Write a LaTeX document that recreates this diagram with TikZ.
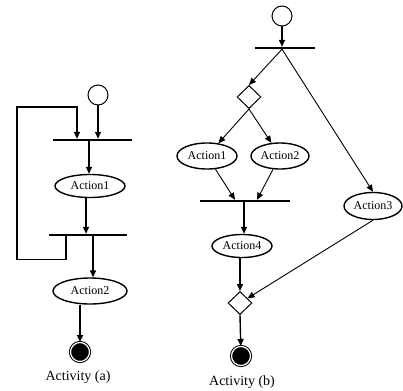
\documentclass[tikz,border=0pt]{standalone}
\usepackage{fontspec}
\setmainfont{Liberation Serif}
\usetikzlibrary{shapes.geometric,arrows.meta}
\begin{document}
\begin{tikzpicture}[x=1pt,y=-1pt,
 act/.style={ellipse,draw,line width=1.4pt,inner sep=0pt,font=\fontsize{12}{14}\selectfont},
 startnode/.style={circle,draw,line width=1pt,minimum size=20pt,inner sep=0pt},
 endnode/.style={circle,fill=black,draw,double=white,double distance=1.2pt,line width=1pt,minimum size=19pt,inner sep=0pt},
 bar/.style={rectangle,fill=black,inner sep=0pt,minimum height=2pt},
 dec/.style={diamond,draw,line width=1pt,inner sep=0pt,minimum width=24pt,minimum height=23pt},
 flow/.style={line width=1.4pt,-{Triangle[length=7pt,width=6pt]}},
 thinflow/.style={line width=0.9pt,-{Triangle[length=7pt,width=6pt]}},
 captext/.style={font=\fontsize{14}{16}\selectfont}
]
\useasboundingbox (0,0) rectangle (403,390);

% ---------- Activity (a)
\node[startnode] (sa) at (98,95) {};
\node[bar,minimum width=79pt] (ba1) at (92.5,140) {};
\node[act,minimum width=70pt,minimum height=23pt] (a1) at (90,186) {Action1};
\node[bar,minimum width=78pt] (ba2) at (88,235) {};
\node[act,minimum width=74pt,minimum height=26pt] (a2) at (90,291) {Action2};
\node[endnode] (ea) at (80,352) {};
\node[captext] (la) at (78,377) {Activity (a)};
\coordinate (fbc) at (17,107);

\draw[flow] (sa) -- (sa |- ba1.north);
\draw[flow] ([xshift=-22pt]ba2.south) -- ++(0,23) -| (fbc) -| ([xshift=-15.5pt]ba1.north);
\draw[flow] ([xshift=-1pt]a1.north |- ba1.south) -- ([xshift=-1pt]a1.north);
\draw[flow] ([xshift=-4pt]a1.south) -- ([xshift=-4pt]a1.south |- ba2.north);
\draw[flow] ([xshift=3pt]a2.north |- ba2.south) -- ([xshift=3pt]a2.north);
\draw[flow] (ea |- a2.south) -- (ea);

% ---------- Activity (b)
\node[startnode] (sb) at (282,16) {};
\node[bar,minimum width=60pt] (bb1) at (285,48) {};
\node[dec] (d1) at (249,97) {};
\node[act,minimum width=60pt,minimum height=26pt] (b1) at (207,156) {Action1};
\node[act,minimum width=58pt,minimum height=26pt] (b2) at (280,156) {Action2};
\node[act,minimum width=58pt,minimum height=27pt] (b3) at (373,206) {Action3};
\node[bar,minimum width=90pt] (bb2) at (245,201) {};
\node[act,minimum width=60pt,minimum height=23pt] (b4) at (242,246) {Action4};
\node[dec] (d2) at (240,303) {};
\node[endnode] (eb) at (241,356) {};
\node[captext] (lb) at (242,382) {Activity (b)};

\draw[flow] (sb) -- (sb |- bb1.north);
\draw[thinflow] (sb |- bb1.south) -- (d1.north);
\draw[thinflow] (sb |- bb1.south) -- (b3.north);
\draw[thinflow] (d1.south) -- (b1);
\draw[thinflow] (d1.south) -- (b2);
\draw[thinflow] (b1) -- ([xshift=-10pt]bb2.north);
\draw[thinflow] (b2) -- ([xshift=12pt]bb2.north);
\draw[flow] ([xshift=2pt]b4.north |- bb2.south) -- ([xshift=2pt]b4.north);
\draw[flow] (d2 |- b4.south) -- (d2.north);
\draw[thinflow] (b3.south) -- (d2);
\draw[flow] (d2.south) -- (eb);
\end{tikzpicture}
\end{document}
